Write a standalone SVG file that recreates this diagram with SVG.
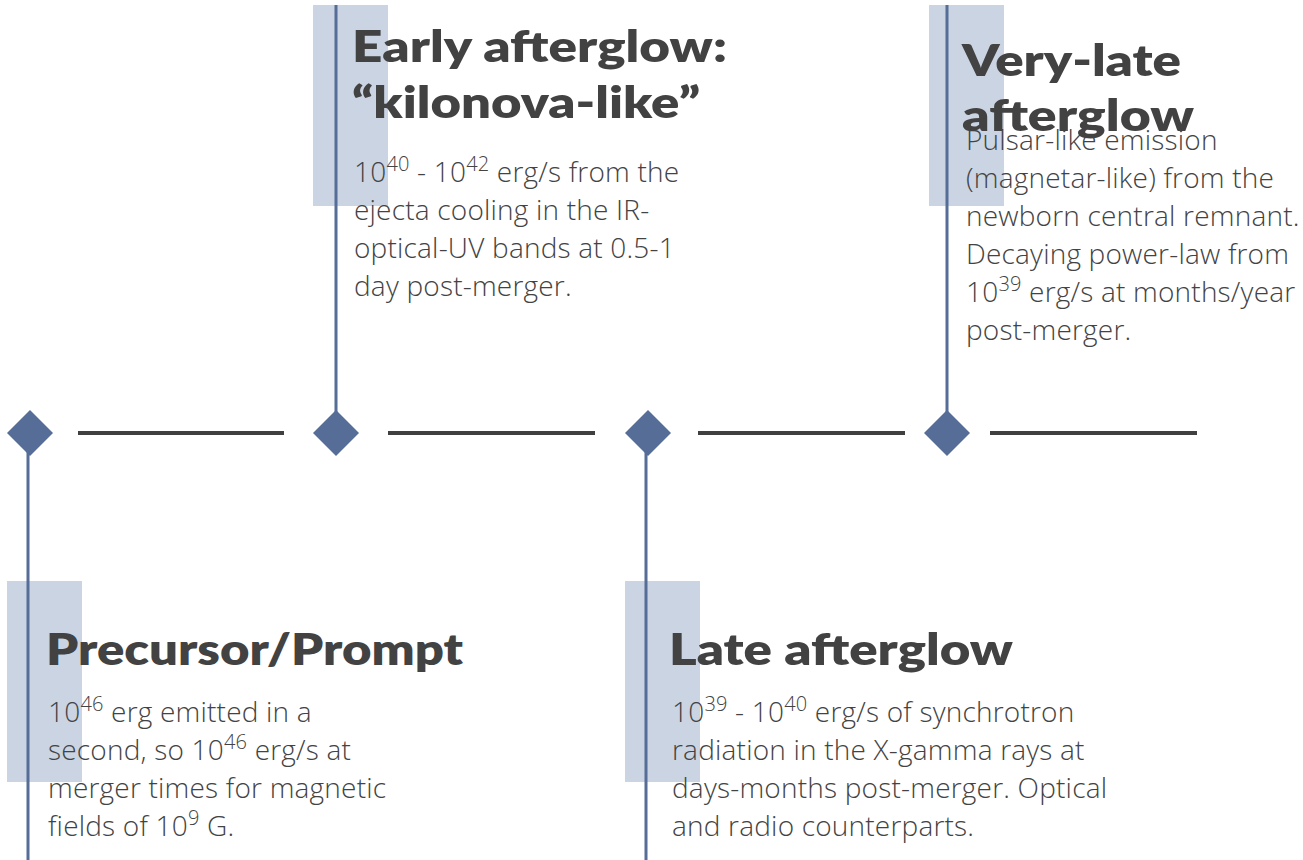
<svg xmlns="http://www.w3.org/2000/svg" width="1303" height="860" viewBox="0 0 1303 860">
<style>
.bg{fill:#cad4e3}
.dia{fill:#556d97}
.title{font-family:Lato,"Liberation Sans",sans-serif;font-weight:800;font-size:44px;fill:#424242}
.body{font-family:"Open Sans","Noto Sans","Liberation Sans",sans-serif;font-weight:300;font-size:28px;letter-spacing:0.2px;fill:#434343}
.sup{font-size:20px}
.dash{stroke:#404040;stroke-width:4;fill:none}
.stem{stroke:#556d97;stroke-width:3;fill:none}
</style>
<rect width="1303" height="860" fill="#ffffff"/>
<g id="node-precursor">
<rect class="bg" x="7" y="581" width="75" height="201"/>
<polygon class="dia" points="30,410 53,433 30,456 7,433"/>
<text class="title" x="46" y="665" textLength="417" lengthAdjust="spacingAndGlyphs">Precursor/Prompt</text>
<text class="body" x="48" y="722">10<tspan class="sup" dy="-11">46</tspan><tspan dy="11"> erg emitted in a</tspan></text>
<text class="body" x="48" y="760">second, so 10<tspan class="sup" dy="-11">46</tspan><tspan dy="11"> erg/s at</tspan></text>
<text class="body" x="48" y="798">merger times for magnetic</text>
<text class="body" x="48" y="836">fields of 10<tspan class="sup" dy="-11">9</tspan><tspan dy="11"> G.</tspan></text>
</g>
<g id="node-early">
<rect class="bg" x="313" y="5" width="75" height="201"/>
<polygon class="dia" points="336,410 359,433 336,456 313,433"/>
<text class="title" x="352" y="62" textLength="375" lengthAdjust="spacingAndGlyphs">Early afterglow:</text>
<text class="title" x="352" y="118" textLength="348" lengthAdjust="spacingAndGlyphs">“kilonova-like”</text>
<text class="body" x="354" y="182">10<tspan class="sup" dy="-11">40</tspan><tspan dy="11"> - 10</tspan><tspan class="sup" dy="-11">42</tspan><tspan dy="11"> erg/s from the</tspan></text>
<text class="body" x="354" y="220">ejecta cooling in the IR-</text>
<text class="body" x="354" y="258">optical-UV bands at 0.5-1</text>
<text class="body" x="354" y="296">day post-merger.</text>
</g>
<g id="node-late">
<rect class="bg" x="625" y="581" width="75" height="201"/>
<polygon class="dia" points="648,410 671,433 648,456 625,433"/>
<text class="title" x="669" y="665" textLength="344" lengthAdjust="spacingAndGlyphs">Late afterglow</text>
<text class="body" x="672" y="722">10<tspan class="sup" dy="-11">39</tspan><tspan dy="11"> - 10</tspan><tspan class="sup" dy="-11">40</tspan><tspan dy="11"> erg/s of synchrotron</tspan></text>
<text class="body" x="672" y="760">radiation in the X-gamma rays at</text>
<text class="body" x="672" y="798">days-months post-merger. Optical</text>
<text class="body" x="672" y="836">and radio counterparts.</text>
</g>
<g id="node-verylate">
<rect class="bg" x="929" y="5" width="75" height="201"/>
<polygon class="dia" points="947,410 970,433 947,456 924,433"/>
<text class="body" x="966" y="150">Pulsar-like emission</text>
<text class="body" x="966" y="188">(magnetar-like) from the</text>
<text class="body" x="966" y="226">newborn central remnant.</text>
<text class="body" x="966" y="264">Decaying power-law from</text>
<text class="body" x="966" y="302">10<tspan class="sup" dy="-11">39</tspan><tspan dy="11"> erg/s at months/year</tspan></text>
<text class="body" x="966" y="340">post-merger.</text>
<text class="title" x="962" y="76" textLength="219" lengthAdjust="spacingAndGlyphs">Very-late</text>
<text class="title" x="962" y="131" textLength="232" lengthAdjust="spacingAndGlyphs">afterglow</text>
</g>
<g id="connectors">
<line class="dash" x1="78" y1="433" x2="284" y2="433"/>
<line class="dash" x1="388" y1="433" x2="595" y2="433"/>
<line class="dash" x1="698" y1="433" x2="905" y2="433"/>
<line class="dash" x1="990" y1="433" x2="1197" y2="433"/>
<line class="stem" x1="28" y1="452" x2="28" y2="860"/>
<line class="stem" x1="336" y1="5" x2="336" y2="412"/>
<line class="stem" x1="646" y1="452" x2="646" y2="860"/>
<line class="stem" x1="947" y1="5" x2="947" y2="412"/>
</g>
</svg>
